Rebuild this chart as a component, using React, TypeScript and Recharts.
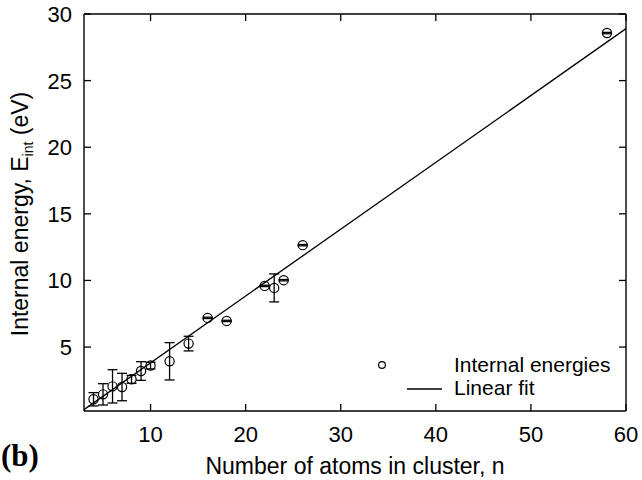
import React from "react";
import {
  ScatterChart,
  Scatter,
  XAxis,
  YAxis,
  ErrorBar,
} from "recharts";

// cluster size n, internal energy (eV) and its error
const atoms = [4, 5, 6, 7, 8, 9, 10, 12, 14, 16, 18, 22, 23, 24, 26, 58];
const energies = [
  1.08, 1.45, 2.05, 2.0, 2.58, 3.2, 3.61, 3.93, 5.26, 7.19, 6.96, 9.59, 9.44,
  10.02, 12.65, 28.57,
];
const errors = [
  0.5, 0.8, 1.25, 1.03, 0.3, 0.7, 0.25, 1.4, 0.55, 0.05, 0.05, 0.05, 1.05,
  0.05, 0.05, 0.05,
];

// linear fit end points
const fitAtoms = [3, 60];
const fitEnergies = [0.3, 28.9];

const xTicks = [10, 20, 30, 40, 50, 60];
const yTicks = [5, 10, 15, 20, 25, 30];

const FONT = "'Liberation Sans', Arial, Helvetica, sans-serif";
const TICK_LEN = 7;

const points = atoms.map((n, i) => ({ n, e: energies[i], err: errors[i] }));
const fitData = fitAtoms.map((n, i) => ({ n, e: fitEnergies[i] }));

const BottomTick: React.FC<any> = ({ x, y, payload }) => (
  <g>
    <line x1={x} x2={x} y1={y} y2={y - TICK_LEN} stroke="#000" strokeWidth={1.3} />
    <text x={x} y={y + 31} textAnchor="middle" fontSize={22} fontFamily={FONT} fill="#000">
      {payload.value}
    </text>
  </g>
);

const TopTick: React.FC<any> = ({ x, y }) => (
  <line x1={x} x2={x} y1={y} y2={y + TICK_LEN} stroke="#000" strokeWidth={1.3} />
);

const LeftTick: React.FC<any> = ({ x, y, payload }) => (
  <g>
    <line x1={x} x2={x + TICK_LEN} y1={y} y2={y} stroke="#000" strokeWidth={1.3} />
    <text x={x - 12} y={y + 8} textAnchor="end" fontSize={22} fontFamily={FONT} fill="#000">
      {payload.value}
    </text>
  </g>
);

const RightTick: React.FC<any> = ({ x, y }) => (
  <line x1={x} x2={x - TICK_LEN} y1={y} y2={y} stroke="#000" strokeWidth={1.3} />
);

const OpenCircle: React.FC<any> = ({ cx, cy }) => (
  <circle cx={cx} cy={cy} r={4.6} fill="none" stroke="#000" strokeWidth={1.2} />
);

const NoDot = () => <g />;

const axisLine = { stroke: "#000", strokeWidth: 1.4 };

export default function App() {
  return (
    <div style={{ position: "absolute", left: 0, top: 0, width: 642, height: 480, background: "#fff" }}>
      <ScatterChart
        width={642}
        height={480}
        margin={{ top: 13, right: 15, bottom: 0, left: 0 }}
      >
        <XAxis
          xAxisId="bottom"
          dataKey="n"
          type="number"
          domain={[3, 60]}
          ticks={xTicks}
          allowDataOverflow
          orientation="bottom"
          height={69}
          tickSize={0}
          tickMargin={0}
          tickLine={false}
          axisLine={axisLine}
          tick={<BottomTick />}
        />
        <XAxis
          xAxisId="top"
          dataKey="n"
          type="number"
          domain={[3, 60]}
          ticks={xTicks}
          allowDataOverflow
          orientation="top"
          height={1}
          tickSize={0}
          tickMargin={0}
          tickLine={false}
          axisLine={axisLine}
          tick={<TopTick />}
        />
        <YAxis
          yAxisId="left"
          dataKey="e"
          type="number"
          domain={[0.2, 30]}
          ticks={yTicks}
          allowDataOverflow
          orientation="left"
          width={84}
          tickSize={0}
          tickMargin={0}
          tickLine={false}
          axisLine={axisLine}
          tick={<LeftTick />}
        />
        <YAxis
          yAxisId="right"
          dataKey="e"
          type="number"
          domain={[0.2, 30]}
          ticks={yTicks}
          allowDataOverflow
          orientation="right"
          width={1}
          tickSize={0}
          tickMargin={0}
          tickLine={false}
          axisLine={axisLine}
          tick={<RightTick />}
        />
        <Scatter
          data={fitData}
          xAxisId="bottom"
          yAxisId="left"
          line={{ stroke: "#000", strokeWidth: 1.3 }}
          shape={<NoDot />}
          isAnimationActive={false}
        />
        <Scatter
          data={points}
          xAxisId="bottom"
          yAxisId="left"
          shape={<OpenCircle />}
          isAnimationActive={false}
        >
          <ErrorBar dataKey="err" direction="y" width={5} stroke="#000" strokeWidth={1.3} />
        </Scatter>
      </ScatterChart>

      <svg
        width={642}
        height={480}
        style={{ position: "absolute", left: 0, top: 0, pointerEvents: "none" }}
      >
        {/* axis titles */}
        <text x={355} y={474} textAnchor="middle" fontSize={23} fontFamily={FONT} fill="#000">
          Number of atoms in cluster, n
        </text>
        <text
          transform="translate(28,214) rotate(-90)"
          textAnchor="middle"
          fontSize={23}
          fontFamily={FONT}
          fill="#000"
        >
          Internal energy, E
          <tspan fontSize={14} dy={5}>int</tspan>
          <tspan dy={-5}> (eV)</tspan>
        </text>

        {/* panel letter */}
        <text x={1} y={466} fontSize={31} fontWeight="bold" fontFamily="'Liberation Serif', 'DejaVu Serif', serif" fill="#000">
          (b)
        </text>

        {/* legend */}
        <circle cx={382} cy={365} r={3.4} fill="none" stroke="#000" strokeWidth={1.2} />
        <text x={454} y={372} fontSize={21} fontFamily={FONT} fill="#000">
          Internal energies
        </text>
        <line x1={407} x2={442} y1={389} y2={389} stroke="#000" strokeWidth={1.3} />
        <text x={454} y={395} fontSize={21} fontFamily={FONT} fill="#000">
          Linear fit
        </text>
      </svg>
    </div>
  );
}
